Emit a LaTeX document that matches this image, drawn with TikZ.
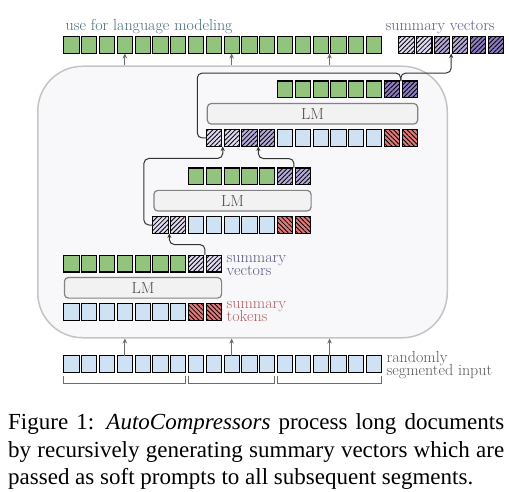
\documentclass[tikz,border=0pt]{standalone}
\usepackage{fontspec}
\newfontfamily\capfont{Liberation Serif}
\usetikzlibrary{patterns.meta,calc,arrows.meta}
\definecolor{cgreen}{RGB}{147,196,125}
\definecolor{cblue}{RGB}{207,226,243}
\definecolor{cred}{RGB}{224,122,122}
\definecolor{pA}{RGB}{224,219,240}
\definecolor{pB}{RGB}{182,170,216}
\definecolor{pC}{RGB}{142,124,195}
\definecolor{framefill}{RGB}{248,248,251}
\definecolor{framedraw}{RGB}{196,196,196}
\definecolor{lmfill}{RGB}{242,242,242}
\definecolor{lmdraw}{RGB}{130,130,130}
\definecolor{txtsv}{RGB}{88,92,130}
\definecolor{txtst}{RGB}{178,96,96}
\definecolor{txtuse}{RGB}{72,108,126}
\definecolor{txtin}{RGB}{88,88,88}
\definecolor{lmtext}{RGB}{84,72,72}
\newcommand{\cellrow}[4]{%
  \foreach \s [count=\i] in {#4} {
    \node[\s] (#1\i) at ({71.45+17.8*(#2+\i-1)}, #3) {};
  }}
\newcommand{\twolines}[2]{\vtop{\baselineskip=13pt\lineskiplimit=-20pt\hbox{\strut #1}\hbox{#2}}}
\begin{document}
\begin{tikzpicture}[x=1pt,y=-1pt,
  cellbase/.style={draw=black, line width=1.1pt, minimum width=15.2pt, minimum height=16.9pt, inner sep=0pt, outer sep=0pt},
  cg/.style={cellbase, fill=cgreen},
  cb/.style={cellbase, fill=cblue},
  cr/.style={cellbase, fill=cred, postaction={pattern={Lines[angle=-45,distance=3.2pt,line width=0.85pt]}}},
  cpa/.style={cellbase, fill=pA, postaction={pattern={Lines[angle=45,distance=3.2pt,line width=0.85pt]}}},
  cpb/.style={cellbase, fill=pB, postaction={pattern={Lines[angle=45,distance=3.2pt,line width=0.85pt]}}},
  cpc/.style={cellbase, fill=pC, postaction={pattern={Lines[angle=45,distance=3.2pt,line width=0.85pt]}}},
  lmbox/.style={draw=lmdraw, fill=lmfill, line width=1.2pt, rounded corners=4pt, minimum height=20.6pt, inner sep=0pt, text=lmtext, font=\fontsize{16}{18}\selectfont},
  lbl/.style={anchor=base west, inner sep=0pt, font=\fontsize{16}{18}\selectfont},
  uparrow/.style={draw=gray!85!black, line width=1pt, -{Stealth[length=5pt,width=4.5pt]}},
  conn/.style={draw=black!80, line width=1pt, rounded corners=5pt},
  brk/.style={draw=gray!85!black, line width=1pt}
]
\useasboundingbox (0,0) rectangle (509,492);

% outer frame
\node[draw=framedraw, fill=framefill, line width=1.5pt, rounded corners=45pt,
      minimum width=409.5pt, minimum height=271.5pt, inner sep=0pt] (frame) at (242.5,202) {};

% top row: language modeling outputs
\cellrow{t}{0}{45}{cg,cg,cg,cg,cg,cg,cg,cg,cg,cg,cg,cg,cg,cg,cg,cg,cg,cg}
% top summary vectors
\foreach \s [count=\i] in {cpa,cpa,cpb,cpb,cpc,cpc} {
  \node[\s] (sv\i) at ({406.45+17.9*(\i-1)}, 45) {};
}
\node[lbl, text=txtuse] (uselbl) at (65.5,30.7) {use for language modeling};
\node[lbl, text=txtsv] (svlbl) at (385.5,30.5) {summary vectors};

% segment 3
\cellrow{s3g}{12}{89.5}{cg,cg,cg,cg,cg,cg,cpc,cpc}
\node[lmbox, minimum width=210.4pt] (lm3) at (312.5,113.8) {LM};
\cellrow{s3b}{8}{138}{cpa,cpa,cpb,cpb,cb,cb,cb,cb,cb,cb,cr,cr}

% segment 2
\cellrow{s2g}{7}{176.5}{cg,cg,cg,cg,cg,cpb,cpb}
\node[lmbox, minimum width=157.2pt] (lm2) at (232.5,200.7) {LM};
\cellrow{s2b}{5}{225}{cpa,cpa,cb,cb,cb,cb,cb,cr,cr}

% segment 1
\cellrow{s1g}{0}{263.5}{cg,cg,cg,cg,cg,cg,cg,cpa,cpa}
\node[lmbox, minimum width=157.2pt] (lm1) at (143,287.8) {LM};
\cellrow{s1b}{0}{312}{cb,cb,cb,cb,cb,cb,cb,cr,cr}
\node[lbl, text=txtsv] (sv1lbl) at (226.5,262.3) {\twolines{summary}{vectors}};
\node[lbl, text=txtst] (st1lbl) at (226.5,308.0) {\twolines{summary}{tokens}};

% input
\cellrow{in}{0}{364.2}{cb,cb,cb,cb,cb,cb,cb,cb,cb,cb,cb,cb,cb,cb,cb,cb,cb,cb}
\node[lbl, text=txtin] (rinlbl) at (386.5,362.6) {\twolines{randomly}{segmented input}};

% brackets
\draw[brk] ($(in1.south west)+(0,3.8)$) -- ++(0,7) -| ($(in7.south east)+(0,3.8)$);
\draw[brk] ($(in8.south west)+(0,3.8)$) -- ++(0,7) -| ($(in12.south east)+(0,3.8)$);
\draw[brk] ($(in13.south west)+(0,3.8)$) -- ++(0,7) -| ($(in18.south east)+(0,3.8)$);

% input arrows into frame
\coordinate (ia3) at ($(in15.north)!0.5!(in16.north)$);
\draw[uparrow] (in4.north) -- (in4.north |- frame.south);
\draw[uparrow] (in10.north) -- (in10.north |- frame.south);
\draw[uparrow] (ia3) -- (ia3 |- frame.south);

% frame to top row arrows
\coordinate (ta3) at ($(t15.south)!0.5!(t16.south)$);
\draw[uparrow] (t4.south |- frame.north) -- (t4.south);
\draw[uparrow] (t10.south |- frame.north) -- (t10.south);
\draw[uparrow] (ta3 |- frame.north) -- (ta3);

% connectors
\coordinate (A1) at ($(s1g8.north)!0.5!(s1g9.north)$);
\coordinate (A2) at ($(s2b1.south)!0.5!(s2b2.south)$);
\draw[conn, -{Stealth[length=4.5pt,width=4pt]}] (A1) -- ++(0,-10.5) -| (A2);

\coordinate (B1) at ($(s2g6.north)!0.5!(s2g7.north)$);
\coordinate (B2) at ($(s3b3.south)!0.5!(s3b4.south)$);
\draw[conn, -{Stealth[length=4.5pt,width=4pt]}] (B1) -- ++(0,-9.5) -| (B2);

\coordinate (C2) at ($(s3b1.south)!0.5!(s3b2.south)$);
\draw[conn, -{Stealth[length=4.5pt,width=4pt]}] (s2b1.west) -- ++(-9,0) |- ($(C2)+(0,12)$) -- (C2);

\coordinate (P) at ($(s3g7.north)!0.5!(s3g8.north)$);
\coordinate (Q) at ($(sv3.south)!0.5!(sv4.south)$);
\draw[conn] (s3b1.west) -- ++(-9,0) |- ($(P)+(0,-8)$) -- (P);
\draw[conn, -{Stealth[length=4.5pt,width=4pt]}] (P) -- ++(0,-8) -| (Q);

% caption
\node[anchor=north west, inner sep=0pt, text width=496pt, align=justify,
      font=\capfont\fontsize{23}{27.7}\selectfont] (caption) at (8,413.3)
  {\hyphenpenalty=10000 \tolerance=9999 Figure 1: \textit{AutoCompressors} process long documents by recursively generating summary vectors which are passed as soft prompts to all subsequent segments.};
\end{tikzpicture}
\end{document}
